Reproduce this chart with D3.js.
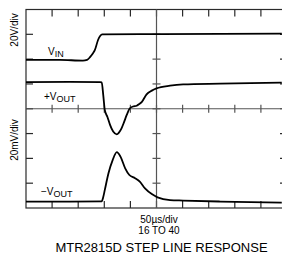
<!DOCTYPE html>
<html>
<head>
<meta charset="utf-8">
<script src="https://cdn.jsdelivr.net/npm/d3@7"></script>
<style>
html,body{margin:0;padding:0;background:#fff;}
svg{display:block;font-family:"Liberation Sans",Arial,Helvetica,sans-serif;}
</style>
</head>
<body>
<script>
// Time in µs (50 µs/div), amplitude in screen divisions
const vinTime  = [0, 65, 109, 117, 123, 128, 132, 138, 142, 146, 257, 490];
const vinValue = [5.97, 5.97, 5.94, 5.97, 6.09, 6.23, 6.37, 6.77, 6.93, 7.00, 7.01, 7.03];

const posTime  = [0, 84, 142, 145, 148, 151, 156, 161, 167, 174, 178, 183, 188, 193, 199, 205, 212, 217, 222, 231, 241, 250, 276, 301, 372, 490];
const posValue = [5.07, 5.08, 5.07, 5.06, 4.55, 3.94, 3.67, 3.35, 3.08, 2.97, 3.04, 3.21, 3.47, 3.75, 4.02, 4.09, 4.12, 4.19, 4.28, 4.58, 4.73, 4.82, 4.93, 4.98, 5.01, 5.05];

const negTime  = [0, 84, 145, 148, 151, 158, 166, 174, 181, 190, 198, 209, 218, 228, 241, 252, 276, 301, 372, 490];
const negValue = [0.26, 0.26, 0.27, 0.44, 0.73, 1.40, 1.93, 2.25, 2.07, 1.60, 1.33, 1.20, 1.06, 0.79, 0.56, 0.43, 0.32, 0.30, 0.26, 0.22];

const xDivs = 10, yDivs = 8, usPerDiv = 50;
const yAxisLabels = ["20V/div", "20mV/div"];
const timeLabel = "50µs/div";
const subLabel = "16 TO 40";
const title = "MTR2815D STEP LINE RESPONSE";

const W = 282, H = 257;
const L = 26, R = 287, T = 9.5, B = 208;

const x = d3.scaleLinear().domain([0, xDivs * usPerDiv]).range([L, R]);
const y = d3.scaleLinear().domain([0, yDivs]).range([B, T]);

const svg = d3.select("body").append("svg").attr("width", W).attr("height", H);

const grid = svg.append("g").attr("stroke", "#2a2a2a").attr("stroke-width", 1.2).attr("fill", "none");
// frame
grid.append("rect").attr("x", L).attr("y", T).attr("width", R - L).attr("height", B - T);
// center lines
const mid = svg.append("g").attr("stroke", "#555").attr("stroke-width", 1.2).attr("fill", "none");
mid.append("line").attr("x1", L).attr("x2", R).attr("y1", y(yDivs / 2)).attr("y2", y(yDivs / 2));
mid.append("line").attr("x1", x(xDivs / 2 * usPerDiv)).attr("x2", x(xDivs / 2 * usPerDiv)).attr("y1", T).attr("y2", B);

const xt = d3.range(1, xDivs).map(i => i * usPerDiv);
const yt = d3.range(1, yDivs);
const tk = 7, ck = 4;
xt.forEach(v => {
  grid.append("line").attr("x1", x(v)).attr("x2", x(v)).attr("y1", T).attr("y2", T + tk);
  grid.append("line").attr("x1", x(v)).attr("x2", x(v)).attr("y1", B - tk).attr("y2", B);
  mid.append("line").attr("x1", x(v)).attr("x2", x(v)).attr("y1", y(yDivs / 2) - ck).attr("y2", y(yDivs / 2) + ck);
});
yt.forEach(v => {
  grid.append("line").attr("x1", L).attr("x2", L + tk).attr("y1", y(v)).attr("y2", y(v));
  grid.append("line").attr("x1", R - tk).attr("x2", R).attr("y1", y(v)).attr("y2", y(v));
  const cx = x(xDivs / 2 * usPerDiv);
  mid.append("line").attr("x1", cx - ck).attr("x2", cx + ck).attr("y1", y(v)).attr("y2", y(v));
});

const line = d3.line().x(d => x(d[0])).y(d => y(d[1])).curve(d3.curveMonotoneX);
const series = [
  d3.zip(vinTime, vinValue),
  d3.zip(posTime, posValue),
  d3.zip(negTime, negValue)
];
svg.append("g").selectAll("path").data(series).join("path")
  .attr("d", line).attr("fill", "none").attr("stroke", "#000").attr("stroke-width", 1.8)
  .attr("stroke-linejoin", "round");

// trace labels
function label(xp, yp, pre, main, sub) {
  const t = svg.append("text").attr("x", xp).attr("y", yp).attr("font-size", 10).attr("fill", "#000");
  t.append("tspan").text(pre + main);
  t.append("tspan").attr("dy", 2.5).attr("font-size", 9).text(sub);
}
label(48, 54.5, "", "V", "IN");
label(44, 99.5, "+", "V", "OUT");
label(41, 194.5, "−", "V", "OUT");

// y labels
svg.append("text").attr("transform", `translate(17.5,${30}) rotate(-90)`).attr("text-anchor", "middle")
  .attr("font-size", 10).text(yAxisLabels[0]);
svg.append("text").attr("transform", `translate(17.5,${140}) rotate(-90)`).attr("text-anchor", "middle")
  .attr("font-size", 10).text(yAxisLabels[1]);

svg.append("text").attr("x", 159).attr("y", 222.5).attr("text-anchor", "middle").attr("font-size", 10).text(timeLabel);
svg.append("text").attr("x", 159).attr("y", 233.5).attr("text-anchor", "middle").attr("font-size", 10).text(subLabel);
svg.append("text").attr("x", 161.5).attr("y", 252).attr("text-anchor", "middle").attr("font-size", 13).text(title);
</script>
</body>
</html>
